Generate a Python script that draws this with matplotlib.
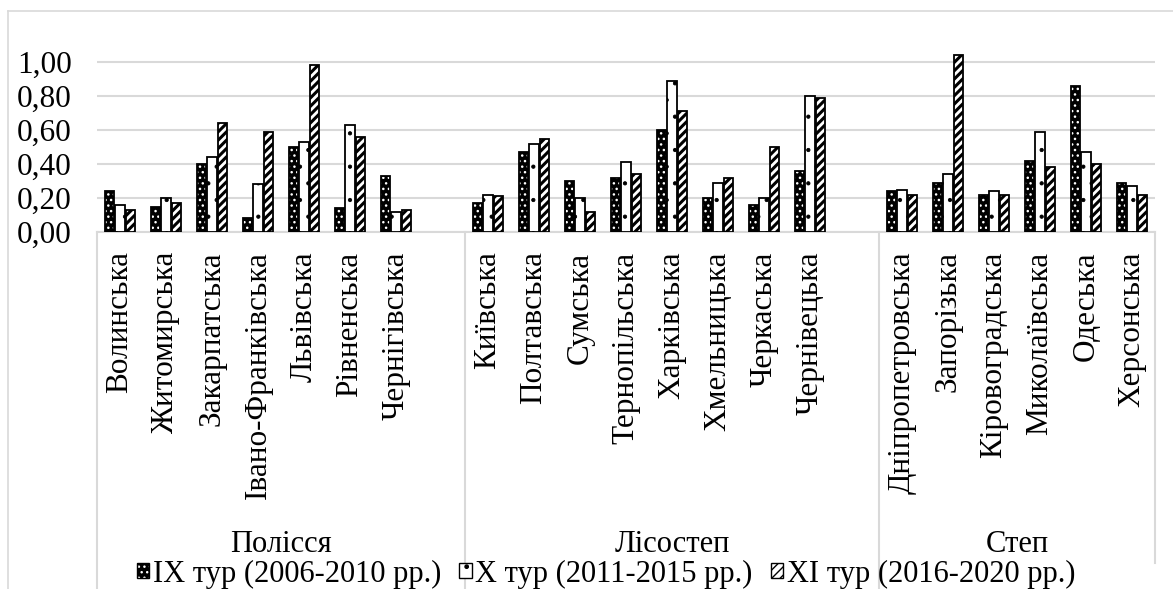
import numpy as np
import matplotlib.pyplot as plt
from matplotlib.patches import Patch
from matplotlib.legend_handler import HandlerTuple

plt.rcParams['font.family'] = ['Liberation Serif', 'DejaVu Serif']
plt.rcParams['hatch.linewidth'] = 1.0

# regions and oblasts (empty slot after each region except the last)
regions = ['Полісся', 'Лісостеп', 'Степ']
polissia = ['Волинська', 'Житомирська', 'Закарпатська', 'Івано-Франківська',
            'Львівська', 'Рівненська', 'Чернігівська']
lisostep = ['Київська', 'Полтавська', 'Сумська', 'Тернопільська', 'Харківська',
            'Хмельницька', 'Черкаська', 'Чернівецька']
step = ['Дніпропетровська', 'Запорізька', 'Кіровоградська', 'Миколаївська',
        'Одеська', 'Херсонська']

series_names = ['IX тур (2006-2010 рр.)', 'X тур (2011-2015 рр.)',
                'XI тур (2016-2020 рр.)']

tour9 = [0.24, 0.15, 0.40, 0.08, 0.50, 0.14, 0.33,
         0.17, 0.47, 0.30, 0.32, 0.60, 0.20, 0.16, 0.36,
         0.24, 0.29, 0.22, 0.42, 0.86, 0.29]
tour10 = [0.16, 0.20, 0.44, 0.28, 0.53, 0.63, 0.12,
          0.22, 0.52, 0.20, 0.41, 0.89, 0.29, 0.20, 0.80,
          0.25, 0.34, 0.24, 0.59, 0.47, 0.27]
tour11 = [0.13, 0.17, 0.64, 0.59, 0.98, 0.56, 0.13,
          0.21, 0.55, 0.12, 0.34, 0.71, 0.32, 0.50, 0.79,
          0.22, 1.04, 0.22, 0.38, 0.40, 0.22]

groups = [polissia, lisostep, step]

# slot positions with a blank slot between regions
pos = []
labels = []
bounds = [-0.5]
slot = 0
for gi, g in enumerate(groups):
    for name in g:
        pos.append(slot)
        labels.append(name)
        slot += 1
    if gi < len(groups) - 1:
        slot += 1
    bounds.append(slot - 0.5)
pos = np.array(pos)
nslots = slot

fig = plt.figure(figsize=(11.73, 5.89), dpi=100)
W, H = 1173, 589
x0, x1, ytop, ybase = 97, 1155, 28, 232
ax = fig.add_axes([x0 / W, (H - ybase) / H, (x1 - x0) / W, (ybase - ytop) / H])

# chart border
fig.add_artist(plt.Line2D([8 / W, 8 / W], [0, 1 - 11 / H], color='#d9d9d9', lw=1.2))
fig.add_artist(plt.Line2D([8 / W, 1], [1 - 11 / H, 1 - 11 / H], color='#d9d9d9', lw=1.2))

w = 0.2
off = 0.22
# face, hatch colour, hatch pattern, hatch linewidth
styles = [('black', 'white', '...', 1.0),
          ('white', 'black', '.', 0.6),
          ('white', 'black', '////', 2.2)]
vals = [tour9, tour10, tour11]
handles = []
for i, (v, (fc, hc, hp, hlw)) in enumerate(zip(vals, styles)):
    xs = pos + (i - 1) * off
    with plt.rc_context({'hatch.linewidth': hlw}):
        ax.bar(xs, v, width=w, facecolor=fc, edgecolor=hc, lw=0, hatch=hp, zorder=3)
        hp_leg = Patch(facecolor=fc, edgecolor=hc, hatch=hp, lw=0)
    ax.bar(xs, v, width=w, fill=False, edgecolor='black', lw=1.3, zorder=4)
    handles.append((hp_leg, Patch(fill=False, edgecolor='black', lw=1.0)))

ax.set_xlim(-0.5, nslots - 0.5)
ax.set_ylim(0, 1.2)
ticks = np.arange(0, 1.01, 0.2)
ax.set_yticks(ticks)
ax.set_yticklabels([f'{t:.2f}'.replace('.', ',') for t in ticks])
ax.yaxis.grid(True, color='#d9d9d9', lw=1.5, zorder=0)
ax.set_axisbelow(True)
for s in ['top', 'right', 'left']:
    ax.spines[s].set_visible(False)
ax.spines['bottom'].set_color('#d9d9d9')
ax.spines['bottom'].set_linewidth(1.5)
ax.tick_params(axis='y', length=0, pad=18, labelsize=22.5)
ax.set_xticks(pos)
ax.set_xticklabels(labels, rotation=90, fontsize=22.5)
ax.tick_params(axis='x', length=0, pad=14)

# region separators and region labels
ah = ybase - ytop
trans = ax.get_xaxis_transform()
for k, b in enumerate(bounds):
    yend = H if k < len(bounds) - 1 else 563
    ax.plot([b, b], [0, -(yend - ybase) / ah], transform=trans, color='#d9d9d9',
            lw=1.5, clip_on=False)
for k, r in enumerate(regions):
    ax.text((bounds[k] + bounds[k + 1]) / 2, -(544 - ybase) / ah, r, transform=trans,
            ha='center', va='center', fontsize=22)

fig.legend(handles, series_names, handler_map={tuple: HandlerTuple(ndivide=1, pad=0)},
           loc='center', bbox_to_anchor=(606 / W, 15 / H), ncol=3, frameon=False,
           fontsize=22, handlelength=0.4, handleheight=0.4, handletextpad=0.12,
           columnspacing=0.6, borderaxespad=0, borderpad=0)

fig.savefig('out.png', dpi=100)
